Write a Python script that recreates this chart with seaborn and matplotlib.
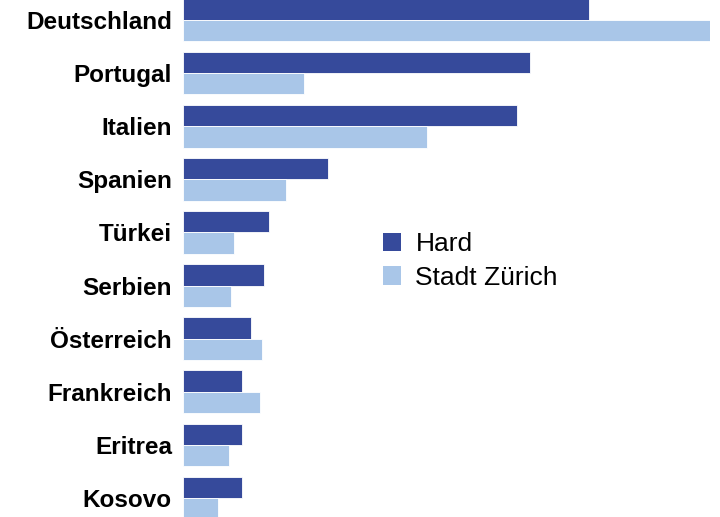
import pandas as pd
import matplotlib.pyplot as plt
import seaborn as sns
from matplotlib.patches import Patch

# Daten
laender = ['Deutschland', 'Portugal', 'Italien', 'Spanien', 'Türkei',
           'Serbien', 'Österreich', 'Frankreich', 'Eritrea', 'Kosovo']
hard = [18.5, 15.8, 15.2, 6.6, 3.9, 3.7, 3.1, 2.7, 2.7, 2.7]
zuerich = [24.0, 5.5, 11.1, 4.7, 2.3, 2.2, 3.6, 3.5, 2.1, 1.6]
serien = ['Hard', 'Stadt Zürich']
farben = ['#364a9b', '#a9c6e8']

df = pd.DataFrame({
    'Land': laender * 2,
    'Wert': hard + zuerich,
    'Gebiet': [serien[0]] * len(laender) + [serien[1]] * len(laender),
})

sns.set_style('white')
plt.rcParams['font.family'] = ['Liberation Sans', 'DejaVu Sans']
plt.rcParams['text.color'] = 'black'

fig = plt.figure(figsize=(7.2, 5.17), dpi=100)
ax = fig.add_axes([183 / 720, 0, (710 - 183) / 720, 1])

sns.barplot(data=df, y='Land', x='Wert', hue='Gebiet', order=laender,
            hue_order=serien, palette=farben, orient='h', width=0.8,
            saturation=1, legend=False, linewidth=0.6, ax=ax)

ax.set_xlim(0, max(zuerich))
ax.set_ylim(9.36, -0.38)
ax.set_xlabel('')
ax.set_ylabel('')
ax.set_xticks([])
ax.tick_params(axis='y', length=0, pad=8, labelcolor='black')
for lab in ax.get_yticklabels():
    lab.set_fontsize(17.5)
    lab.set_fontweight('bold')
sns.despine(ax=ax, left=True, bottom=True)

handles = [Patch(facecolor=c, edgecolor='none') for c in farben]
fig.legend(handles, serien, loc='center left',
           bbox_to_anchor=(383 / 720, 1 - 261 / 517), frameon=False,
           fontsize=19, handlelength=0.68, handleheight=0.68,
           handletextpad=0.55, labelspacing=0.36, borderpad=0,
           borderaxespad=0, labelcolor='black')

fig.savefig('out.png', dpi=100)
